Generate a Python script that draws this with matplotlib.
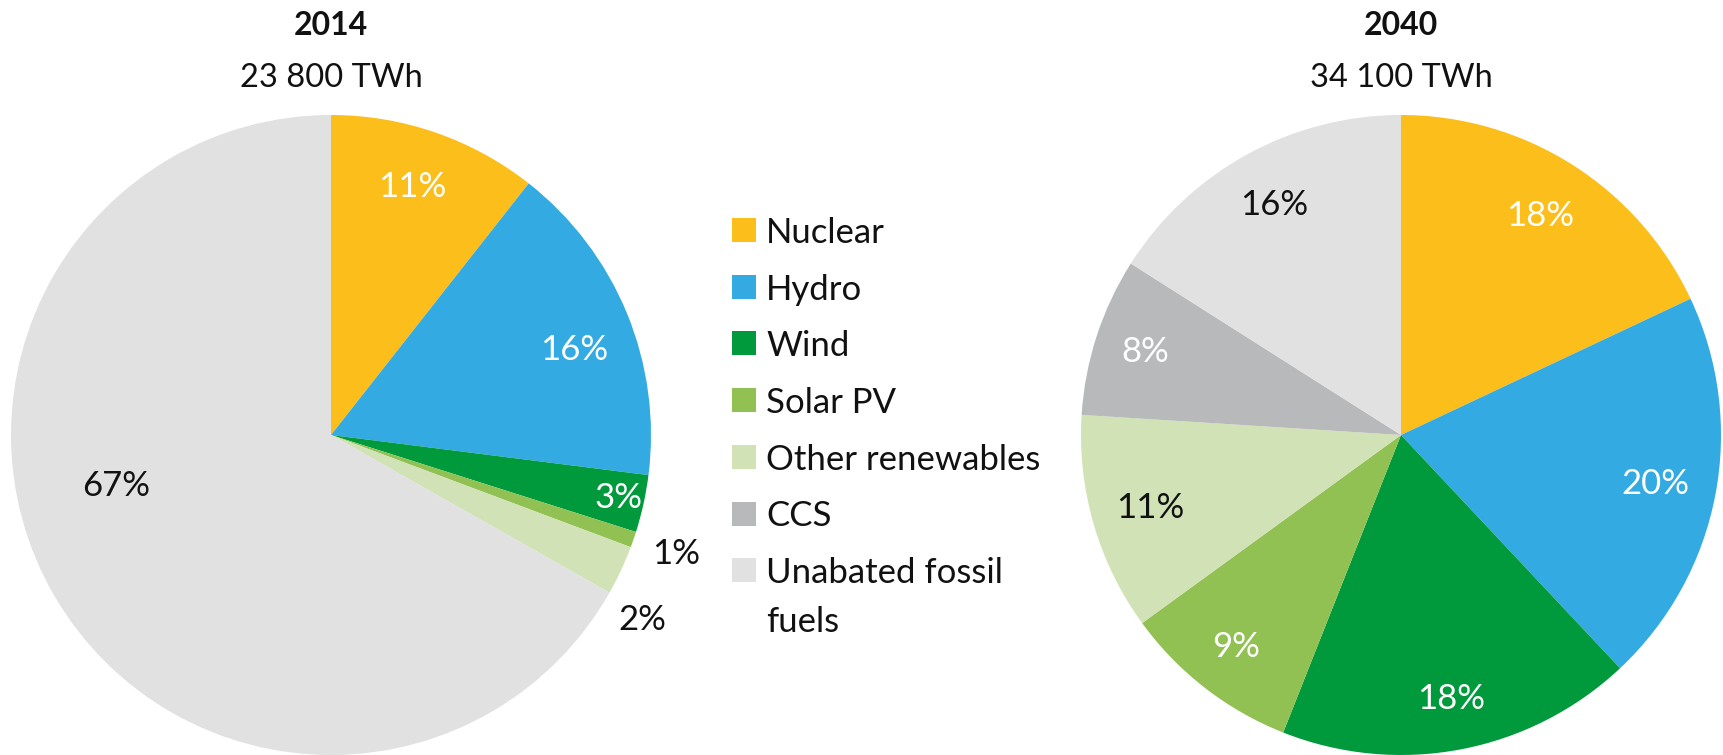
import matplotlib
matplotlib.use("Agg")
import matplotlib.pyplot as plt
import numpy as np
from matplotlib.patches import Rectangle

plt.rcParams["font.family"] = ["Lato", "DejaVu Sans"]

CATEGORIES = ["Nuclear", "Hydro", "Wind", "Solar PV", "Other renewables",
              "CCS", "Unabated fossil\nfuels"]
COLORS = ["#FBBE1A", "#33AAE1", "#009A3C", "#92C153", "#D0E2B6",
          "#B8B9BB", "#E1E1E1"]

YEARS = ["2014", "2040"]
TOTALS = ["23 800 TWh", "34 100 TWh"]
SHARES_2014 = [10.6, 16.4, 2.9, 0.8, 2.5, 0.0, 66.8]
LABELS_2014 = ["11%", "16%", "3%", "1%", "2%", "", "67%"]
SHARES_2040 = [18, 20, 18, 9, 11, 8, 16]
LABELS_2040 = ["18%", "20%", "18%", "9%", "11%", "8%", "16%"]

# label placement: radial distance (x radius), clockwise nudge (deg), colour
DIST_2014 = [0.815, 0.805, 0.92, 1.14, 1.13, 0.8, 0.69]
NUDGE_2014 = [-1.0, 3.0, 0.0, 0.0, 5.7, 0.0, 17.0]
TXT_2014 = ["white", "white", "white", "#111111", "#111111", "#111111", "#111111"]
DIST_2040 = [0.81, 0.81, 0.84, 0.84, 0.815, 0.84, 0.82]
NUDGE_2040 = [0, 0, 0, 0, 0, 0, 0]
TXT_2040 = ["white", "white", "white", "white", "#111111", "white", "#111111"]

W, H = 1723, 755
R = 320
fig = plt.figure(figsize=(W / 100, H / 100), dpi=100)


def pie_axes(cx, cy):
    return fig.add_axes([(cx - R) / W, 1 - (cy + R) / H, 2 * R / W, 2 * R / H])


def draw_pie(ax, shares, labels, dists, nudges, tcols):
    wedges, _ = ax.pie(shares, colors=COLORS, startangle=90, counterclock=False,
                       radius=1, wedgeprops=dict(linewidth=0))
    for w, lab, d, n, c in zip(wedges, labels, dists, nudges, tcols):
        if not lab:
            continue
        th = np.radians((w.theta1 + w.theta2) / 2 - n)
        ax.text(d * np.cos(th), d * np.sin(th), lab, ha="center", va="center",
                fontsize=25, color=c)
    ax.set_xlim(-1, 1); ax.set_ylim(-1, 1)
    ax.set_aspect("equal")
    ax.axis("off")


for cx, yr, tot, sh, lb, ds, nd, tc in [
        (331, YEARS[0], TOTALS[0], SHARES_2014, LABELS_2014, DIST_2014, NUDGE_2014, TXT_2014),
        (1401, YEARS[1], TOTALS[1], SHARES_2040, LABELS_2040, DIST_2040, NUDGE_2040, TXT_2040)]:
    ax = pie_axes(cx, 435)
    draw_pie(ax, sh, lb, ds, nd, tc)
    fig.text(cx / W, 1 - 35 / H, yr, ha="center", va="baseline",
             fontsize=23, fontweight="bold", color="#111111")
    fig.text(cx / W, 1 - 87 / H, tot, ha="center", va="baseline",
             fontsize=23.5, color="#111111")

# legend, drawn by hand so the swatches sit beside the first text line
for i, (name, col) in enumerate(zip(CATEGORIES, COLORS)):
    top = 218 + i * 56.7
    fig.patches.append(Rectangle((732 / W, 1 - (top + 24) / H), 24 / W, 24 / H,
                                 transform=fig.transFigure, facecolor=col,
                                 edgecolor="none"))
    for k, line in enumerate(name.split("\n")):
        fig.text(766 / W, 1 - (top + 25 + 49 * k) / H, line, ha="left",
                 va="baseline", fontsize=25, color="#111111")

fig.savefig("out.png", dpi=100)
